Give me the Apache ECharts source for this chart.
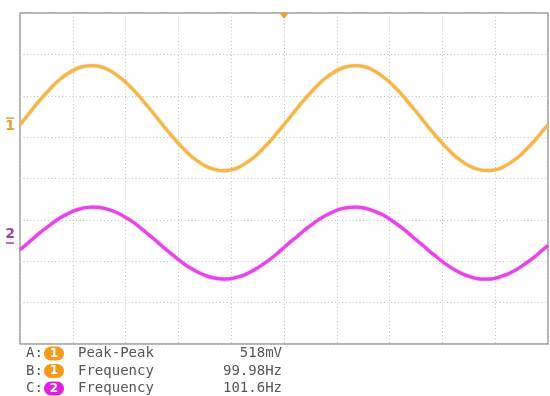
<!DOCTYPE html>
<html>
<head>
<meta charset="utf-8">
<script src="https://cdn.jsdelivr.net/npm/echarts@6/dist/echarts.min.js"></script>
<style>html,body{margin:0;padding:0;background:#fff}#c{width:550px;height:396px}</style>
</head>
<body>
<div id="c"></div>
<script>
// time in ms (2 ms/div), amplitude in divisions
var timeMs = [0,0.25,0.5,0.75,1,1.25,1.5,1.75,2,2.25,2.5,2.75,3,3.25,3.5,3.75,4,4.25,4.5,4.75,5,5.25,5.5,5.75,6,6.25,6.5,6.75,7,7.25,7.5,7.75,8,8.25,8.5,8.75,9,9.25,9.5,9.75,10,10.25,10.5,10.75,11,11.25,11.5,11.75,12,12.25,12.5,12.75,13,13.25,13.5,13.75,14,14.25,14.5,14.75,15,15.25,15.5,15.75,16,16.25,16.5,16.75,17,17.25,17.5,17.75,18,18.25,18.5,18.75,19,19.25,19.5,19.75,20];
var ch1 = [1.30,1.50,1.70,1.89,2.07,2.24,2.39,2.51,2.61,2.68,2.72,2.73,2.71,2.66,2.57,2.46,2.33,2.17,2.00,1.81,1.62,1.42,1.22,1.03,0.85,0.68,0.53,0.41,0.31,0.24,0.20,0.19,0.21,0.26,0.35,0.46,0.59,0.75,0.92,1.11,
           1.30,1.50,1.70,1.89,2.07,2.24,2.39,2.51,2.61,2.68,2.72,2.73,2.71,2.66,2.57,2.46,2.33,2.17,2.00,1.81,1.62,1.42,1.22,1.03,0.85,0.68,0.53,0.41,0.31,0.24,0.20,0.19,0.21,0.26,0.35,0.46,0.59,0.75,0.92,1.11,1.30];
var ch2 = [-1.72,-1.59,-1.45,-1.31,-1.19,-1.07,-0.96,-0.87,-0.79,-0.74,-0.70,-0.69,-0.70,-0.73,-0.78,-0.85,-0.94,-1.04,-1.16,-1.29,-1.42,-1.56,-1.70,-1.83,-1.96,-2.08,-2.18,-2.27,-2.34,-2.39,-2.42,-2.43,-2.42,-2.38,-2.33,-2.25,-2.16,-2.05,-1.94,-1.81,
           -1.67,-1.53,-1.40,-1.26,-1.14,-1.02,-0.92,-0.84,-0.77,-0.72,-0.70,-0.69,-0.71,-0.75,-0.81,-0.88,-0.98,-1.09,-1.21,-1.34,-1.48,-1.61,-1.75,-1.88,-2.01,-2.12,-2.22,-2.30,-2.36,-2.41,-2.43,-2.43,-2.41,-2.36,-2.30,-2.22,-2.12,-2.01,-1.89,-1.75,-1.62];
var ch1Ground = 1.46;
var ch2Ground = -1.56;
var triggerTime = 10;
var measLetters = ['A:','B:','C:'];
var measChannels = ['1','1','2'];
var measNames = ['Peak-Peak','Frequency','Frequency'];
var measValues = ['518mV','99.98Hz','101.6Hz'];

var C1 = '#f4b64c', C2 = '#e445e6';
function pts(ys){ return timeMs.map(function(t,i){ return [t, ys[i]]; }); }

var chart = echarts.init(document.getElementById('c'));
var graphics = [];
var rowY = [353.5, 371, 388.5];
for (var i = 0; i < 3; i++) {
  var col = measChannels[i] === '1' ? '#f39a1c' : '#e020e0';
  var tf = '14px "DejaVu Sans Mono"';
  graphics.push({type:'text', x:26, y:rowY[i], style:{text:measLetters[i], font:tf, fill:'#555', verticalAlign:'middle'}});
  graphics.push({type:'rect', x:44, y:rowY[i]-7, shape:{width:20, height:14, r:7}, style:{fill:col}});
  graphics.push({type:'text', x:54, y:rowY[i], style:{text:measChannels[i], font:'bold 12px "DejaVu Sans"', fill:'#fff', align:'center', verticalAlign:'middle'}});
  graphics.push({type:'text', x:78, y:rowY[i], style:{text:measNames[i], font:tf, fill:'#555', verticalAlign:'middle'}});
  graphics.push({type:'text', x:282, y:rowY[i], style:{text:measValues[i], font:tf, fill:'#555', align:'right', verticalAlign:'middle'}});
}

chart.setOption({
  animation:false,
  grid:{left:20, top:13, right:2, bottom:52, show:true, borderColor:'#9a9a9a', borderWidth:1.5, backgroundColor:'#fff'},
  xAxis:{type:'value', min:0, max:20, interval:2,
    axisLine:{show:false}, axisTick:{show:false}, axisLabel:{show:false},
    splitLine:{show:true, lineStyle:{color:'#c4c4c4', type:[1,2.5], width:1}}},
  yAxis:{type:'value', min:-4, max:4, interval:1,
    axisLine:{show:false}, axisTick:{show:false}, axisLabel:{show:false},
    splitLine:{show:true, lineStyle:{color:'#c4c4c4', type:[1,2.5], width:1}}},
  graphic:graphics,
  series:[
    {type:'line', data:pts(ch1), smooth:0.2, showSymbol:false, z:3,
     lineStyle:{color:C1, width:3.2, shadowBlur:2, shadowColor:'rgba(244,182,76,0.6)'},
     markPoint:{symbol:'rect', symbolSize:[8,1.5], symbolOffset:[-10,0], silent:true,
       itemStyle:{color:'#e0a030'},
       label:{show:true, formatter:'1', position:'bottom', distance:1, color:'#e0a030', fontSize:14, fontWeight:'bold', fontFamily:'DejaVu Sans'},
       data:[{coord:[0, ch1Ground]}]}},
    {type:'line', data:pts(ch2), smooth:0.2, showSymbol:false, z:3,
     lineStyle:{color:C2, width:3.2, shadowBlur:2, shadowColor:'rgba(228,69,230,0.6)'},
     markPoint:{symbol:'rect', symbolSize:[8,1.5], symbolOffset:[-10,0], silent:true,
       itemStyle:{color:'#a040a8'},
       label:{show:true, formatter:'2', position:'top', distance:1, color:'#a040a8', fontSize:14, fontWeight:'bold', fontFamily:'DejaVu Sans'},
       data:[{coord:[0, ch2Ground]}]}},
    {type:'line', data:[], markPoint:{symbol:'triangle', symbolRotate:180, symbolSize:[9,6], symbolOffset:[0,3], silent:true,
       itemStyle:{color:'#f0a020'}, label:{show:false}, data:[{coord:[triggerTime, 4]}]}}
  ]
});
</script>
</body>
</html>
